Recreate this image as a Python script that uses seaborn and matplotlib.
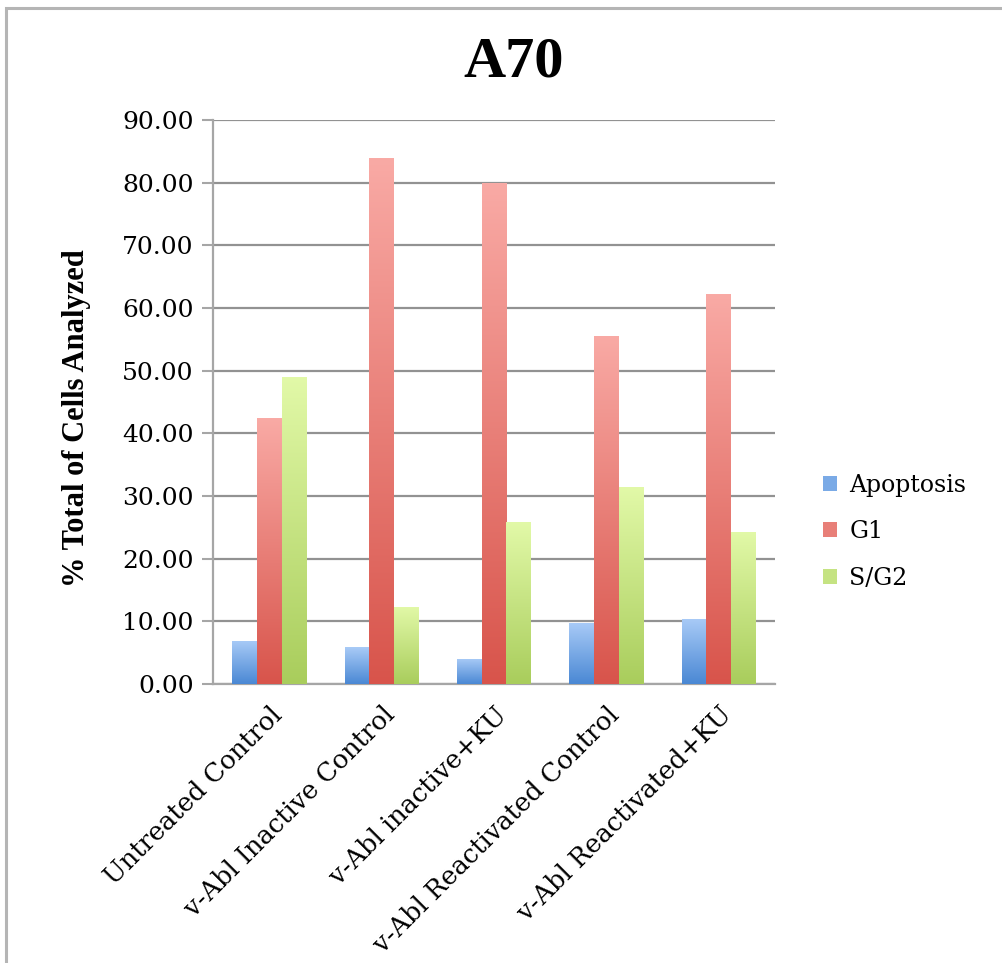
import numpy as np
import pandas as pd
import matplotlib
matplotlib.use("Agg")
import matplotlib.pyplot as plt
from matplotlib.patches import Rectangle, Patch
from matplotlib.colors import LinearSegmentedColormap
import seaborn as sns

# Cell-cycle distribution for the A70 line
conditions = [
    "Untreated Control",
    "v-Abl Inactive Control",
    "v-Abl inactive+KU",
    "v-Abl Reactivated Control",
    "v-Abl Reactivated+KU",
]
phases = ["Apoptosis", "G1", "S/G2"]
apoptosis = [6.9, 5.9, 4.0, 9.8, 10.4]
g1 = [42.4, 83.9, 79.9, 55.6, 62.2]
s_g2 = [49.0, 12.3, 25.8, 31.4, 24.3]
y_ticks = [0, 10, 20, 30, 40, 50, 60, 70, 80, 90]

df = pd.DataFrame({
    "Condition": conditions * 3,
    "Phase": [p for p in phases for _ in conditions],
    "Percent": apoptosis + g1 + s_g2,
})

# top (light) and bottom (dark) shades of each phase's gradient fill
shades = {
    "Apoptosis": ("#a9cbf7", "#4a88d4"),
    "G1": ("#f9aaa5", "#d8544b"),
    "S/G2": ("#e2f9a8", "#a9cd5c"),
}
mid = {k: matplotlib.colors.to_hex(
    (np.array(matplotlib.colors.to_rgb(a)) + np.array(matplotlib.colors.to_rgb(b))) / 2)
    for k, (a, b) in shades.items()}

sns.set_theme(style="white")
plt.rcParams["font.family"] = ["DejaVu Serif"]
plt.rcParams["text.color"] = "black"
plt.rcParams["xtick.labelcolor"] = "black"
plt.rcParams["ytick.labelcolor"] = "black"
plt.rcParams["axes.labelcolor"] = "black"

fig = plt.figure(figsize=(10.03, 9.63), dpi=100)
fig.patch.set_facecolor("white")

# outer chart frame
fig.patches.append(Rectangle((0.006, -0.05), 1.2, 0.9917 + 0.05,
                             transform=fig.transFigure, fill=False,
                             edgecolor="#b5b5b5", linewidth=2.2, zorder=0))

ax = fig.add_axes([0.2124, 0.2897, 0.5603, 0.5857])
sns.barplot(data=df, x="Condition", y="Percent", hue="Phase",
            order=conditions, hue_order=phases,
            palette=[mid[p] for p in phases], width=0.66,
            errorbar=None, ax=ax, legend=False, zorder=3)

# vertical gradient fill clipped to each bar
grad = np.linspace(0, 1, 256).reshape(-1, 1)
for container, phase in zip(ax.containers, phases):
    cmap = LinearSegmentedColormap.from_list(phase, [shades[phase][1], shades[phase][0]])
    for bar in container:
        x0, w, h = bar.get_x(), bar.get_width(), bar.get_height()
        bar.set_facecolor("none")
        bar.set_edgecolor("none")
        im = ax.imshow(grad, cmap=cmap, aspect="auto", origin="lower",
                       extent=[x0, x0 + w, 0, h], zorder=3)
        im.set_clip_path(bar)

ax.set_xlim(-0.5, len(conditions) - 0.5)
ax.set_ylim(0, 90)
ax.set_yticks(y_ticks)
ax.set_yticklabels([f"{v:.2f}" for v in y_ticks], fontsize=18)
ax.set_xticks(range(len(conditions)))
ax.set_xticklabels(conditions, fontsize=18.5, rotation=45, ha="right",
                   rotation_mode="anchor")
ax.set_xticks(np.arange(-0.5, len(conditions), 1), minor=True)
ax.tick_params(axis="x", which="major", length=0, pad=13)
ax.tick_params(axis="x", which="minor", length=8, width=1.5, color="#a6a6a6",
               direction="out")
ax.tick_params(axis="y", length=8, width=1.5, color="#a6a6a6", direction="out",
               pad=6, left=True)
ax.yaxis.grid(True, color="#929292", linewidth=1.6, zorder=0)
ax.set_axisbelow(True)
for s in ["top", "right"]:
    ax.spines[s].set_visible(False)
for s in ["left", "bottom"]:
    ax.spines[s].set_color("#a6a6a6")
    ax.spines[s].set_linewidth(1.6)

ax.set_xlabel("")
ax.set_ylabel("% Total of Cells Analyzed", fontsize=22, fontweight="bold",
              family="Liberation Serif")
ax.yaxis.set_label_coords(-0.218, 0.472)

fig.text(0.512, 0.935, "A70", fontsize=42, fontweight="bold",
         family="Liberation Serif", ha="center", va="center", color="black")

handles = [Patch(facecolor=mid[p], edgecolor="none") for p in phases]
ax.legend(handles, phases, loc="center left", bbox_to_anchor=(1.048, 0.27),
          frameon=False, fontsize=17, handlelength=0.6, handleheight=0.6,
          handletextpad=0.5, labelspacing=1.0)

fig.savefig("out.png", dpi=100, facecolor="white")
